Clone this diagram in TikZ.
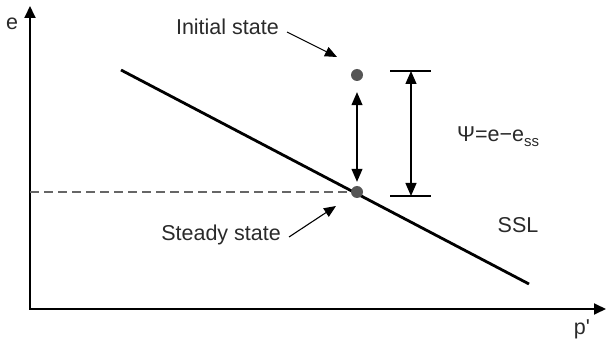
\documentclass[tikz,border=0pt]{standalone}
\usepackage{fontspec}
\setmainfont{Liberation Sans}
\usetikzlibrary{arrows.meta}
\definecolor{txt}{HTML}{2a2a2a}
\definecolor{dotc}{HTML}{555555}
\definecolor{dashc}{HTML}{666666}
\tikzset{
  lbl/.style={inner sep=0pt, text=txt, font=\fontsize{21.5}{25}\selectfont},
  axis/.style={line width=1.8pt, -{Triangle[length=12pt,width=11pt]}},
  sslline/.style={line width=2.8pt},
  dotnode/.style={circle, fill=dotc, minimum size=12pt, inner sep=0pt},
  dimarrow/.style={line width=1.2pt, {Triangle[length=13pt,width=11pt]}-{Triangle[length=13pt,width=11pt]}},
  tickline/.style={line width=1.2pt},
  callout/.style={line width=1.1pt, -{Triangle[length=12pt,width=10pt]}},
  dashline/.style={line width=1.2pt, dashc, dash pattern=on 9pt off 5pt}
}
\begin{document}
\begin{tikzpicture}[x=1pt,y=-1pt]
\useasboundingbox (0,0) rectangle (606,342);
% axes
\coordinate (O) at (30,309);
\coordinate (ytip) at (30,6);
\coordinate (xtip) at (606,309);
\draw[axis] (O) -- (ytip);
\draw[axis] ([xshift=-0.9pt]O) -- (xtip);
\node[lbl] (elbl) at (12,24) {e};
\node[lbl] (plbl) at (582,329) {p\textquotesingle};
% dashed line
\coordinate (dleft) at (30,192);
\coordinate (dright) at (357,192);
\draw[dashline] (dleft) -- (dright);
% SSL
\coordinate (s1) at (121,70);
\coordinate (s2) at (529,284);
\draw[sslline] (s1) -- (s2);
\node[lbl] (ssl) at (518,225) {SSL};
% dots
\node[dotnode] (steady) at (357,192) {};
\node[dotnode] (init) at (357,75) {};
% arrow between dots
\draw[dimarrow, shorten <=11pt, shorten >=4pt] (init) -- (steady);
% dimension
\coordinate (dt) at (411,71);
\coordinate (db) at (411,196);
\coordinate (dtl) at (390,71);
\coordinate (dtr) at (431,71);
\coordinate (dbl) at (390,196);
\coordinate (dbr) at (431,196);
\draw[tickline] (dtl) -- (dtr);
\draw[tickline] (dbl) -- (dbr);
\draw[dimarrow] (dt) -- (db);
\node[lbl, anchor=west] (psi) at (457,137) {Ψ=e−e\raisebox{-0.45ex}{\fontsize{15}{17}\selectfont ss}};
% callouts
\node[lbl, anchor=east] (inittxt) at (279,27) {Initial state};
\coordinate (ia) at (337,57);
\draw[callout] ([xshift=8pt,yshift=-5pt]inittxt.east) -- (ia);
\node[lbl, anchor=east] (steadytxt) at (281,235) {Steady state};
\coordinate (sa) at (336,206);
\draw[callout] ([xshift=8pt,yshift=-2pt]steadytxt.east) -- (sa);
\end{tikzpicture}
\end{document}
